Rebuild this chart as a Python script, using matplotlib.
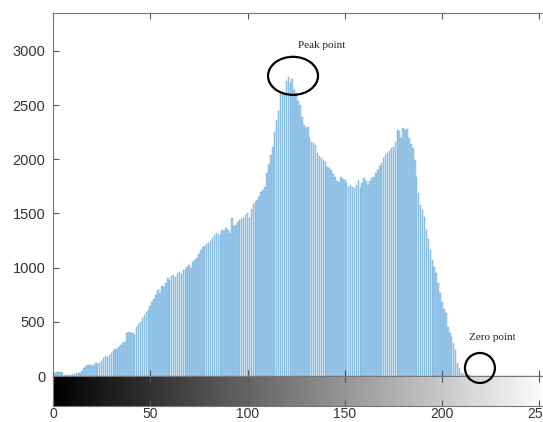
import numpy as np
import matplotlib
matplotlib.use("Agg")
import matplotlib.pyplot as plt
from matplotlib.patches import Ellipse

# histogram counts, one per gray level 0..255
counts = [
    20, 30, 40, 40, 35, 30, 10, 5, 5, 10,
    15, 20, 25, 25, 30, 50, 75, 95, 100, 100,
    95, 100, 120, 110, 120, 140, 165, 180, 175, 195,
    210, 230, 250, 245, 270, 285, 300, 310, 400, 410,
    395, 400, 380, 450, 480, 500, 535, 560, 590, 610,
    650, 680, 710, 750, 790, 770, 830, 820, 860, 900,
    890, 920, 930, 910, 950, 960, 940, 980, 990, 1010,
    1020, 1000, 1050, 1070, 1090, 1130, 1160, 1190, 1200, 1220,
    1230, 1250, 1270, 1300, 1320, 1310, 1300, 1345, 1340, 1365,
    1350, 1320, 1460, 1380, 1390, 1420, 1440, 1450, 1460, 1490,
    1500, 1460, 1540, 1590, 1610, 1620, 1650, 1700, 1720, 1740,
    1870, 1960, 2040, 2110, 2250, 2360, 2450, 2600, 2620, 2610,
    2720, 2760, 2700, 2740, 2640, 2610, 2540, 2500, 2390, 2320,
    2290, 2300, 2200, 2160, 2150, 2130, 2060, 2030, 2010, 1990,
    1975, 1930, 1920, 1900, 1860, 1840, 1800, 1790, 1840, 1820,
    1810, 1780, 1745, 1760, 1745, 1735, 1760, 1810, 1735, 1780,
    1830, 1800, 1765, 1800, 1830, 1840, 1870, 1900, 1940, 1970,
    2010, 2040, 2060, 2080, 2100, 2110, 2160, 2270, 2260, 2200,
    2290, 2270, 2280, 2200, 2140, 2100, 1990, 1840, 1690, 1580,
    1530, 1470, 1350, 1260, 1160, 1070, 1010, 950, 860, 770,
    680, 620, 580, 450, 400, 360, 300, 240, 120, 70,
    30, 15, 10, 8, 5, 3, 0, 0, 0, 0,
    0, 0, 0, 0, 0, 0, 0, 0, 0, 0,
    0, 0, 0, 0, 0, 0, 0, 0, 0, 0,
    0, 0, 0, 0, 0, 0, 0, 0, 0, 0,
    0, 0, 0, 0, 0, 0,
]
levels = np.arange(len(counts))
xticks = [0, 50, 100, 150, 200, 250]
yticks = [0, 500, 1000, 1500, 2000, 2500, 3000]

W, H = 543, 422
fig = plt.figure(figsize=(W / 100, H / 100), dpi=100)
plt.rcParams['font.family'] = ['Liberation Sans', 'DejaVu Sans']

px_per_level = 1.945
ax_w = 255 * px_per_level / W
ax = fig.add_axes([53 / W, 46 / H, ax_w, 363 / H])
cb = fig.add_axes([53 / W, 16 / H, ax_w, 30 / H])

ax.bar(levels, counts, width=0.78, color='#a2cdec', edgecolor='#6aa9d8', linewidth=0.3)
ax.set_xlim(0, 255)
ax.set_ylim(0, 3350)
ax.set_xticks(xticks)
ax.set_yticks(yticks)
ax.set_xticklabels([])
ax.tick_params(axis='x', direction='in', top=True, bottom=True, length=4, color='#555555')
ax.tick_params(axis='y', direction='in', length=4, color='#555555', labelsize=10.5,
               labelcolor='#333333', pad=5.5)
for s in ax.spines.values():
    s.set_color('#777777')
    s.set_linewidth(0.8)

# gray-level colorbar under the histogram
cb.imshow(levels.reshape(1, -1), cmap='gray', aspect='auto', extent=(0, 255, 0, 1))
cb.set_xlim(0, 255)
cb.set_xticks(xticks)
cb.set_yticks([])
cb.tick_params(axis='x', direction='in', top=True, bottom=True, length=4, color='#555555',
               labelsize=10, labelcolor='#333333', pad=1)
for s in cb.spines.values():
    s.set_color('#777777')
    s.set_linewidth(0.8)

# annotations
fig.text(322 / W, 1 - 45 / H, 'Peak point', family='Liberation Serif', fontsize=8,
         ha='center', va='center', color='#222222')
fig.text(492 / W, 1 - 338 / H, 'Zero point', family='Liberation Serif', fontsize=8,
         ha='center', va='center', color='#222222')
fig.add_artist(Ellipse((123.4, 2770), 25.7, 351, transform=ax.transData,
                       fill=False, edgecolor='black', linewidth=1.6))
fig.add_artist(Ellipse((219.5, 74), 15.4, 277, transform=ax.transData,
                       fill=False, edgecolor='black', linewidth=1.6))

fig.savefig('out.png', dpi=100)
